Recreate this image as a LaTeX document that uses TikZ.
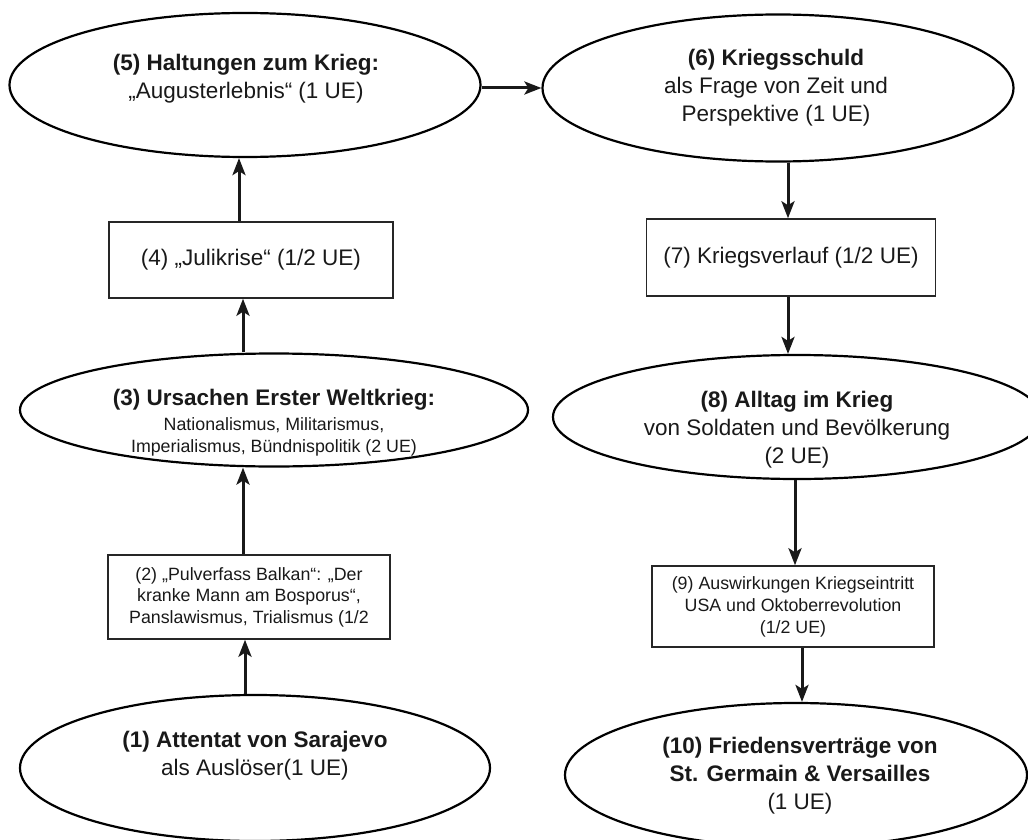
\documentclass[tikz,border=0pt]{standalone}
\usepackage{fontspec}
\setmainfont{Liberation Sans}
\usetikzlibrary{arrows.meta,shapes.geometric}
\tikzset{
  oval/.style={draw=black, line width=2.2pt, ellipse, inner sep=0pt},
  stepbox/.style={draw=black!85, line width=1.5pt, rectangle, inner sep=0pt, align=center, text=black!90},
  bigtxt/.style={align=center, text=black!90, inner sep=0pt, font=\fontsize{22.5}{28}\selectfont},
  smalltxt/.style={align=center, text=black!90, inner sep=0pt, font=\fontsize{17.8}{22}\selectfont},
  arr/.style={line width=3pt, black!90, -{Stealth[length=17pt,width=13pt,inset=4pt]}}
}
\begin{document}
\begin{tikzpicture}[x=1pt,y=-1pt]
\useasboundingbox (0,0) rectangle (1028,840);
% ellipses
\node[oval, minimum width=471pt, minimum height=144pt] (e5) at (245,85) {};
\node[oval, minimum width=471pt, minimum height=147pt] (e6) at (778,88) {};
\node[oval, minimum width=508pt, minimum height=113pt] (e3) at (274,410) {};
\node[oval, minimum width=488pt, minimum height=124pt] (e8) at (797,417) {};
\node[oval, minimum width=470pt, minimum height=146pt] (e1) at (255,768) {};
\node[oval, minimum width=462pt, minimum height=144pt] (e10) at (796,775) {};
% ellipse texts
\node[bigtxt] (t5) at (246,79) {\textbf{(5) Haltungen zum Krieg:}\\„Augusterlebnis“ (1 UE)};
\node[bigtxt] (t6) at (776,88) {\textbf{(6) Kriegsschuld}\\als Frage von Zeit und\\Perspektive (1 UE)};
\node[smalltxt] (t3) at (274,423) {{\fontsize{22.5}{25}\selectfont\textbf{(3) Ursachen Erster Weltkrieg:}}\\[3pt]Nationalismus, Militarismus,\\Imperialismus, Bündnispolitik (2 UE)};
\node[bigtxt] (t8) at (797,430) {\textbf{(8) Alltag im Krieg}\\von Soldaten und Bevölkerung\\(2 UE)};
\node[bigtxt] (t1) at (255,756) {\textbf{(1) Attentat von Sarajevo}\\als Auslöser(1 UE)};
\node[bigtxt] (t10) at (800,776) {\textbf{(10) Friedensverträge von}\\\textbf{St. Germain \& Versailles}\\(1 UE)};
% boxes
\node[stepbox, minimum width=284pt, minimum height=76pt, font=\fontsize{22.5}{28}\selectfont] (b4) at (251,260) {(4) „Julikrise“ (1/2 UE)};
\node[stepbox, minimum width=289pt, minimum height=77pt, font=\fontsize{22.5}{28}\selectfont] (b7) at (791,257.5) {(7) Kriegsverlauf (1/2 UE)};
\node[stepbox, minimum width=282pt, minimum height=84pt, font=\fontsize{17.8}{21.5}\selectfont] (b2) at (249,597) {(2) „Pulverfass Balkan“: „Der\\kranke Mann am Bosporus“,\\Panslawismus, Trialismus (1/2};
\node[stepbox, minimum width=282pt, minimum height=81pt, font=\fontsize{17.8}{22}\selectfont] (b9) at (793,606.5) {(9) Auswirkungen Kriegseintritt\\USA und Oktoberrevolution\\(1/2 UE)};
% column coordinates
\coordinate (cA) at (243,0);
\coordinate (cB) at (239,0);
\coordinate (cC) at (245,0);
\coordinate (cR1) at (788,0);
\coordinate (cR2) at (795,0);
\coordinate (cR3) at (802,0);
% connectors
\draw[arr] (e1.north -| cC) -- (b2.south -| cC);
\draw[arr] (b2.north -| cA) -- (e3.south -| cA);
\draw[arr] (e3.north -| cA) -- (b4.south -| cA);
\draw[arr] (b4.north -| cB) -- (e5.south -| cB);
\draw[arr] (e6.west -| e5.east) -- (e6.west);
\draw[arr] (e6.south -| cR1) -- (b7.north -| cR1);
\draw[arr] (b7.south -| cR1) -- (e8.north -| cR1);
\draw[arr] (e8.south -| cR2) -- (b9.north -| cR2);
\draw[arr] (b9.south -| cR3) -- (e10.north -| cR3);
\end{tikzpicture}
\end{document}
